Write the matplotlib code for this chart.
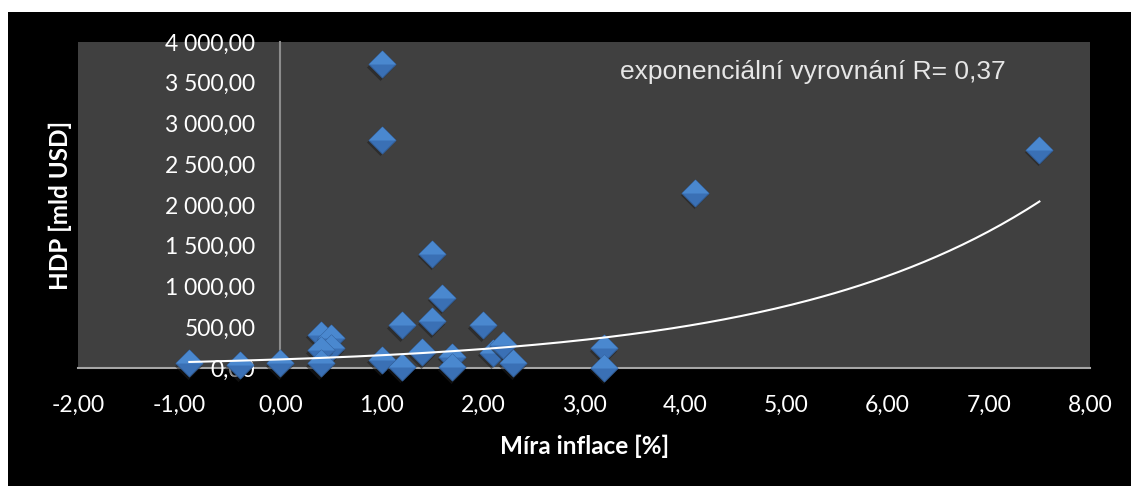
import numpy as np
import matplotlib
matplotlib.use("Agg")
import matplotlib.pyplot as plt
from matplotlib.path import Path
from matplotlib.patches import Rectangle
from matplotlib.ticker import FuncFormatter, MultipleLocator
from matplotlib.transforms import offset_copy

# Data
inflace = [1.0, 1.0, 7.5, 4.1, 1.5, 1.6, 1.5, 1.2, 2.0, 0.4, 0.5, 0.5, 0.4, 0.4,
           -0.9, -0.4, 0.0, 1.0, 1.2, 1.4, 1.7, 1.7, 2.1, 2.2, 2.3, 3.2, 3.2]
hdp = [3730, 2800, 2675, 2150, 1400, 860, 575, 525, 525, 405, 370, 245, 220, 60,
       60, 35, 60, 100, 15, 195, 135, 10, 185, 285, 60, 245, 5]

# exponential trend y = a * exp(b * x), estimated from the drawn curve
trend_a = 105.6
trend_b = 0.395
trend_label = "exponenciální vyrovnání R= 0,37"

plt.rcParams['font.family'] = ['Lato', 'DejaVu Sans']

fig = plt.figure(figsize=(11.31, 4.86), dpi=100, facecolor='white')
fig.patches.append(Rectangle((8 / 1131, 0), 1123 / 1131, 474 / 486,
                             transform=fig.transFigure, facecolor='black',
                             edgecolor='none', zorder=-1))

ax = fig.add_axes([78 / 1131, 118 / 486, 1012 / 1131, 326 / 486])
ax.set_zorder(1)
ax.set_facecolor('#404040')
ax.set_xlim(-2, 8)
ax.set_ylim(0, 4000)

# diamond markers with a lighter top facet
diamond = Path([(-1, 0), (0, 1), (1, 0), (0, -1), (-1, 0)],
               [Path.MOVETO, Path.LINETO, Path.LINETO, Path.LINETO, Path.CLOSEPOLY])
top_half = Path([(-1, 0), (0, 1), (1, 0), (-1, 0)],
                [Path.MOVETO, Path.LINETO, Path.LINETO, Path.CLOSEPOLY])
shadow_tr = offset_copy(ax.transData, fig=fig, x=-1.5, y=-2.5, units='dots')

for xv, yv in zip(inflace, hdp):
    ax.plot([xv], [yv], marker=diamond, ms=19.5, color='#1e1e1e', alpha=0.55,
            mec='none', ls='none', transform=shadow_tr, zorder=2, clip_on=False)
    ax.plot([xv], [yv], marker=diamond, ms=19.5, color='#3a70b5',
            mec='#325f9a', mew=0.6, ls='none', zorder=2, clip_on=False)
    ax.plot([xv], [yv], marker=top_half, ms=19.5, color='#4a88cf',
            mec='none', ls='none', zorder=2, clip_on=False)

xs = np.linspace(min(inflace), max(inflace), 200)
ax.plot(xs, trend_a * np.exp(trend_b * xs), color='white', lw=1.5, zorder=3)

ax.text(0.536, 0.908, trend_label, transform=ax.transAxes, ha='left', va='center',
        fontsize=19, color='#e6e6e6', family=['Liberation Sans', 'DejaVu Sans'])

ax.xaxis.set_major_locator(MultipleLocator(1))
ax.yaxis.set_major_locator(MultipleLocator(500))
ax.xaxis.set_major_formatter(FuncFormatter(lambda v, p: f"{v:.2f}".replace(".", ",")))
ax.yaxis.set_major_formatter(FuncFormatter(
    lambda v, p: f"{v:,.2f}".replace(",", " ").replace(".", ",")))

for s in ['top', 'right']:
    ax.spines[s].set_visible(False)
ax.spines['left'].set_position(('data', 0))
ax.spines['left'].set_color('#8c8c8c')
ax.spines['left'].set_linewidth(1.5)
ax.spines['bottom'].set_color('#a6a6a6')
ax.spines['bottom'].set_linewidth(1.5)
ax.spines['left'].set_zorder(1.5)
ax.spines['bottom'].set_zorder(1.5)

ax.tick_params(axis='x', length=0, pad=19, labelsize=16.5, colors='white')
ax.tick_params(axis='y', length=0, pad=18, labelsize=16.5, colors='white')
for lab in ax.get_yticklabels():
    lab.set_zorder(5)

fig.text(585 / 1131, 1 - 446 / 486, "Míra inflace [%]", ha='center', va='center',
         fontsize=17.5, fontweight='bold', color='white')
fig.text(60 / 1131, 1 - 205 / 486, "HDP [mld USD]", ha='center', va='center',
         rotation=90, fontsize=17.5, fontweight='bold', color='white')

fig.savefig('out.png', dpi=100, facecolor='white')
